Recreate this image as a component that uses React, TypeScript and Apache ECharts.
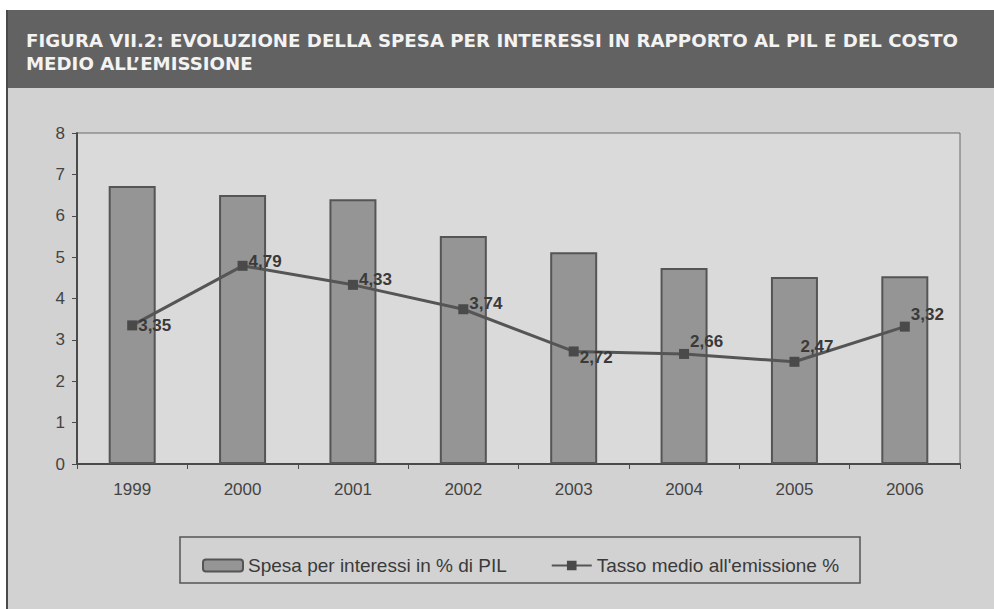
import React, { useEffect, useRef } from "react";
import * as echarts from "echarts";

const titleLines = [
  "FIGURA VII.2: EVOLUZIONE DELLA SPESA PER INTERESSI IN RAPPORTO AL PIL E DEL COSTO",
  "MEDIO ALL\u2019EMISSIONE",
];
const years = ["1999", "2000", "2001", "2002", "2003", "2004", "2005", "2006"];
const spesaPil = [6.72, 6.5, 6.4, 5.51, 5.12, 4.74, 4.52, 4.54];
const tassoMedio = [3.35, 4.79, 4.33, 3.74, 2.72, 2.66, 2.47, 3.32];
const yTicks = { min: 0, max: 8, interval: 1 };
const seriesNames = ["Spesa per interessi in % di PIL", "Tasso medio all'emissione %"];
const labelDy = [0, -4, -5, -6, 6, -12, -15, -12];

export default function App() {
  const ref = useRef<HTMLDivElement>(null);
  useEffect(() => {
    if (!ref.current) return;
    const chart = echarts.init(ref.current, undefined, { renderer: "svg" });
    const fmt = (v: number) => v.toFixed(2).replace(".", ",");
    chart.setOption({
      animation: false,
      backgroundColor: "#ffffff",
      graphic: [
        { type: "rect", z: -10, shape: { x: 7, y: 88, width: 987, height: 521 }, style: { fill: "#d2d2d2" } },
        { type: "rect", z: -10, shape: { x: 7, y: 10, width: 987, height: 78 }, style: { fill: "#626262" } },
        { type: "line", z: -5, shape: { x1: 7, y1: 10, x2: 7, y2: 609 }, style: { stroke: "#4a4a4a", lineWidth: 2 } },
        {
          type: "text", left: 26, top: 31,
          style: { text: titleLines[0], fill: "#f3f3f3", font: "bold 18.2px 'DejaVu Sans'" },
        },
        {
          type: "text", left: 26, top: 54,
          style: { text: titleLines[1], fill: "#f3f3f3", font: "bold 18.2px 'DejaVu Sans'" },
        },
        {
          type: "rect", z: 5,
          shape: { x: 180, y: 537, width: 680, height: 46 },
          style: { fill: "none", stroke: "#555555", lineWidth: 1.5 },
        },
      ],
      grid: {
        left: 77, right: 34, top: 133, bottom: 145,
        show: true, backgroundColor: "#dadada", borderColor: "#6a6a6a", borderWidth: 1,
      },
      legend: {
        left: 197, top: 551,
        itemWidth: 40, itemHeight: 12, itemGap: 44,
        textStyle: { fontFamily: "'Liberation Sans', Arial", fontSize: 19, color: "#3a3a3a" },
        data: seriesNames,
      },
      xAxis: {
        type: "category",
        data: years,
        axisLine: { lineStyle: { color: "#4a4a4a", width: 2 } },
        axisTick: { show: true, length: 5, lineStyle: { color: "#4a4a4a" } },
        axisLabel: { margin: 17, fontFamily: "'Liberation Sans', Arial", fontSize: 17, color: "#444" },
      },
      yAxis: {
        type: "value",
        min: yTicks.min, max: yTicks.max, interval: yTicks.interval,
        splitLine: { show: false },
        axisLine: { show: true, lineStyle: { color: "#4a4a4a", width: 2 } },
        axisTick: { show: true, length: 5, lineStyle: { color: "#4a4a4a" } },
        axisLabel: { margin: 12, fontFamily: "'Liberation Sans', Arial", fontSize: 17, color: "#444" },
      },
      series: [
        {
          name: seriesNames[0],
          type: "bar",
          data: spesaPil,
          barWidth: 47,
          itemStyle: { color: "#959595", borderColor: "#555555", borderWidth: 2 },
        },
        {
          name: seriesNames[1],
          type: "line",
          data: tassoMedio.map((v, i) => ({
            value: v,
            label: { offset: [0, labelDy[i]] },
          })),
          symbol: "rect",
          symbolSize: 10,
          lineStyle: { color: "#555555", width: 3 },
          itemStyle: { color: "#4a4a4a" },
          z: 3,
          label: {
            show: true,
            position: "right",
            distance: 1,
            formatter: (p: any) => fmt(p.value),
            fontFamily: "'Liberation Sans', Arial",
            fontSize: 17,
            fontWeight: "bold",
            color: "#3a3a3a",
          },
        },
      ],
    });
    return () => chart.dispose();
  }, []);
  return (
    <div
      ref={ref}
      style={{ position: "fixed", left: 0, top: 0, width: 994, height: 609 }}
    />
  );
}
